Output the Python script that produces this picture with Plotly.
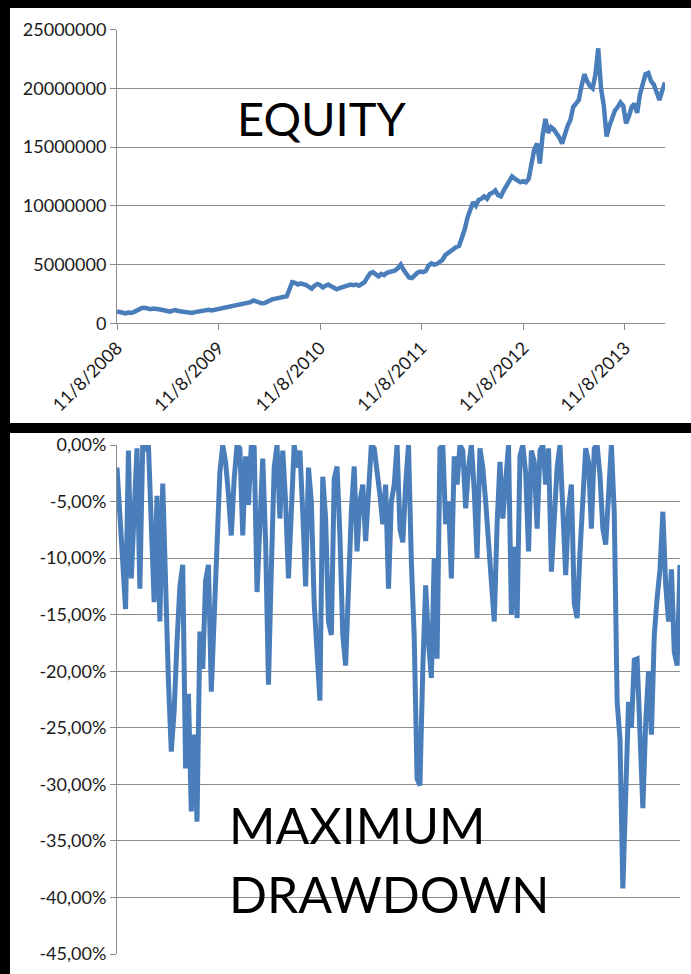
import pandas as pd
import plotly.graph_objects as go

# ---- data ----
start_date = "2008-11-08"
n_points = 198
dates = pd.date_range(start_date, periods=n_points, freq="10D")

equity_millions = [
    1.0, 0.95, 0.9, 0.85, 0.92, 0.88, 0.95, 1.1, 1.2, 1.3,
    1.33, 1.25, 1.2, 1.25, 1.18, 1.2, 1.15, 1.1, 1.05, 1.0,
    1.08, 1.12, 1.05, 1.0, 0.95, 0.98, 0.92, 0.88, 0.95, 1.0,
    1.08, 1.05, 1.1, 1.15, 1.1, 1.15, 1.22, 1.2, 1.3, 1.38,
    1.35, 1.45, 1.5, 1.55, 1.6, 1.58, 1.65, 1.7, 1.8, 1.95,
    1.85, 1.75, 1.7, 1.72, 1.85, 2.0, 2.05, 2.1, 2.15, 2.2,
    2.25, 2.3, 2.9, 3.5, 3.45, 3.3, 3.4, 3.35, 3.25, 3.1,
    2.95, 3.2, 3.35, 3.25, 3.05, 3.2, 3.3, 3.15, 3.05, 2.9,
    3.0, 3.1, 3.2, 3.25, 3.3, 3.25, 3.3, 3.2, 3.35, 3.5,
    3.9, 4.25, 4.35, 4.15, 4.0, 4.2, 4.1, 4.3, 4.35, 4.4,
    4.5, 4.7, 5.0, 4.55, 4.2, 3.9, 3.85, 4.1, 4.3, 4.4,
    4.35, 4.45, 4.9, 5.1, 5.0, 5.05, 5.2, 5.4, 5.8, 6.0,
    6.1, 6.3, 6.5, 6.6, 7.2, 8.0, 9.0, 9.8, 10.3, 10.0,
    10.5, 10.6, 10.8, 10.6, 11.0, 11.1, 11.3, 10.9, 10.8, 11.3,
    11.7, 12.2, 12.5, 12.3, 12.2, 12.0, 12.1, 12.0, 12.3, 13.6,
    14.8, 15.3, 13.6, 16.0, 17.4, 16.2, 16.7, 16.5, 16.2, 15.8,
    15.3, 16.2, 16.8, 17.3, 18.4, 18.7, 19.0, 20.2, 21.2, 20.6,
    20.2, 20.0, 21.2, 23.4, 20.0, 18.5, 15.9, 16.8, 17.5, 18.1,
    18.4, 18.8, 18.5, 17.0, 17.6, 18.4, 18.7, 17.9, 19.5, 20.4,
    21.2, 21.3, 20.6, 20.3, 19.6, 19.0, 19.8, 20.5,
]

drawdown_pct = [
    -2.0, -6.5, -11.0, -14.5, -0.5, -11.8, -6.0, -0.3, -12.7, 0.0,
    -0.5, 0.0, -7.0, -13.9, -4.5, -15.6, -3.4, -13.5, -20.9, -27.1,
    -23.5, -17.4, -12.5, -10.6, -28.6, -22.0, -32.4, -25.6, -33.3, -16.5,
    -19.8, -12.0, -10.6, -21.8, -15.0, -6.5, -2.4, 0.0, -1.5, -4.4,
    -8.0, -3.0, 0.0, -0.3, -8.0, -1.0, -5.3, 0.0, -0.2, -13.0,
    -6.0, -1.2, -8.5, -21.2, -11.0, -2.0, 0.0, -6.5, -0.5, -5.0,
    -11.8, -5.0, 0.0, -2.0, -0.5, -6.0, -12.5, -2.0, -5.0, -14.0,
    -19.0, -22.6, -2.8, -6.5, -15.6, -16.8, -3.0, -1.9, -8.0, -16.8,
    -19.5, -12.1, -5.9, -1.9, -9.4, -5.0, -3.5, -8.5, -3.2, 0.0,
    -0.3, -2.0, -4.4, -7.0, -3.5, -12.7, -5.0, -3.5, 0.0, -7.4,
    -8.6, -3.5, 0.0, -10.3, -17.0, -29.5, -30.1, -19.8, -12.4, -17.4,
    -20.6, -10.0, -18.9, -0.3, 0.0, -7.0, -5.0, -11.8, -1.0, -3.5,
    0.0, -0.5, -5.6, -2.0, 0.0, -4.0, -10.0, -0.3, -2.0, -5.0,
    -8.8, -12.5, -15.6, -7.0, -1.5, -6.5, -3.0, 0.0, -15.0, -9.0,
    -15.3, -1.0, 0.0, -2.5, -9.4, -0.5, -1.5, -7.4, -0.5, 0.0,
    -3.5, -0.3, -11.2, -5.5, -2.0, 0.0, -7.0, -11.5, -5.6, -3.5,
    -14.0, -15.3, -9.5, -4.0, -0.3, -1.5, -7.4, -0.3, 0.0, -2.7,
    -7.4, -8.8, -5.0, 0.0, -6.0, -22.7, -26.0, -39.2, -31.0, -22.7,
    -25.0, -19.0, -18.9, -24.5, -32.1, -24.5, -20.0, -25.6, -16.8, -13.5,
    -11.0, -5.9, -12.4, -15.6, -11.0, -18.3, -19.5, -10.6,
]

equity_ticks = [0, 5000000, 10000000, 15000000, 20000000, 25000000]
equity_ticktext = ["0", "5000000", "10000000", "15000000", "20000000", "25000000"]
date_ticks = ["2008-11-08", "2009-11-08", "2010-11-08", "2011-11-08", "2012-11-08", "2013-11-08"]
date_ticktext = ["11/8/2008", "11/8/2009", "11/8/2010", "11/8/2011", "11/8/2012", "11/8/2013"]
dd_ticks = [0, -5, -10, -15, -20, -25, -30, -35, -40, -45]
dd_ticktext = ["0,00%", "-5,00%", "-10,00%", "-15,00%", "-20,00%", "-25,00%",
               "-30,00%", "-35,00%", "-40,00%", "-45,00%"]

# ---- figure ----
W, H = 691, 974
LINE = "#4A7EBB"
GRID = "#8C8C8C"
FONT = "Lato"

def px(x):
    return x / W

def py(y):
    return 1 - y / H

equity = [v * 1e6 for v in equity_millions]

fig = go.Figure()
fig.add_trace(go.Scatter(x=dates, y=equity, mode="lines",
                         line=dict(color=LINE, width=4.5), xaxis="x", yaxis="y",
                         showlegend=False, hoverinfo="skip"))
fig.add_trace(go.Scatter(x=dates, y=drawdown_pct, mode="lines",
                         line=dict(color=LINE, width=5), xaxis="x2", yaxis="y2",
                         showlegend=False, hoverinfo="skip"))

xr = [dates[0], dates[-1]]
tickfont = dict(family=FONT, size=18, color="#1a1a1a")

fig.update_layout(
    width=W, height=H, autosize=False,
    margin=dict(l=0, r=0, t=0, b=0),
    paper_bgcolor="white", plot_bgcolor="white",
    xaxis=dict(domain=[px(117), px(665)], range=xr, type="date",
               tickvals=date_ticks, ticktext=date_ticktext, tickangle=-45,
               showgrid=False, zeroline=False, showline=True, linecolor=GRID,
               ticks="outside", ticklen=6, tickcolor=GRID, tickfont=tickfont,
               automargin=False, anchor="y"),
    yaxis=dict(domain=[py(323.3), py(29.5)], range=[0, 25000000],
               tickvals=equity_ticks, ticktext=equity_ticktext,
               showgrid=True, gridcolor=GRID, gridwidth=1, zeroline=False,
               showline=True, linecolor=GRID, ticks="outside", ticklen=6,
               tickcolor=GRID, tickfont=tickfont, automargin=False, anchor="x"),
    xaxis2=dict(domain=[px(117), px(680)], range=xr, type="date",
                showticklabels=False, showgrid=False, zeroline=False,
                showline=False, ticks="", automargin=False, anchor="y2"),
    yaxis2=dict(domain=[py(954), py(445)], range=[-45, 0],
                tickvals=dd_ticks, ticktext=dd_ticktext,
                showgrid=True, gridcolor=GRID, gridwidth=1, zeroline=False,
                showline=True, linecolor=GRID, ticks="outside", ticklen=6,
                tickcolor=GRID, tickfont=tickfont, automargin=False, anchor="x2"),
    annotations=[
        dict(text="EQUITY", xref="paper", yref="paper", x=px(322), y=py(118),
             xanchor="center", yanchor="middle", showarrow=False,
             font=dict(family=FONT, size=47, color="black")),
        dict(text="MAXIMUM", xref="paper", yref="paper", x=px(227), y=py(825),
             xanchor="left", yanchor="middle", showarrow=False,
             font=dict(family=FONT, size=50, color="black")),
        dict(text="DRAWDOWN", xref="paper", yref="paper", x=px(227), y=py(894),
             xanchor="left", yanchor="middle", showarrow=False,
             font=dict(family=FONT, size=50, color="black")),
    ],
    shapes=[
        dict(type="rect", xref="paper", yref="paper", x0=0, x1=1, y0=py(8), y1=1,
             fillcolor="black", line=dict(width=0), layer="above"),
        dict(type="rect", xref="paper", yref="paper", x0=0, x1=px(10), y0=0, y1=1,
             fillcolor="black", line=dict(width=0), layer="above"),
        dict(type="rect", xref="paper", yref="paper", x0=0, x1=1, y0=py(433), y1=py(423),
             fillcolor="black", line=dict(width=0), layer="above"),
    ],
)

fig.write_html("out.html", config={"displayModeBar": False},
               post_script="document.body.style.margin='0';document.body.style.overflow='hidden';")
